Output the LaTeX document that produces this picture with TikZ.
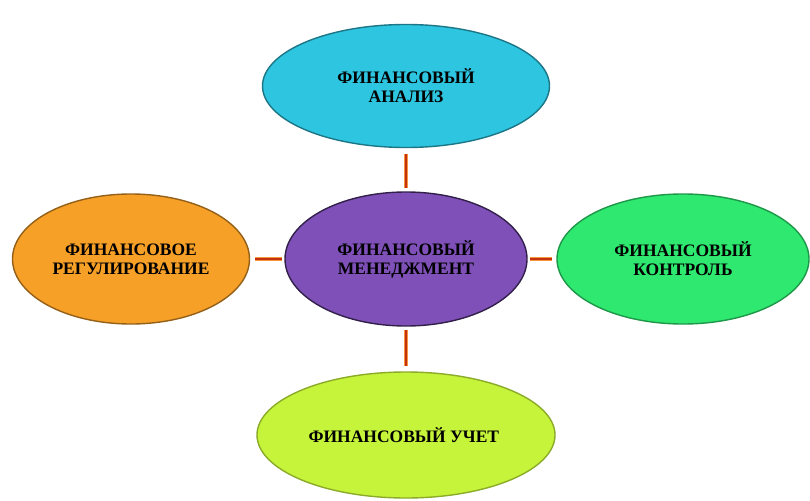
\documentclass[tikz,border=0pt]{standalone}
\usepackage{fontspec}
\setmainfont{Liberation Serif}
\usepackage{tikz}
\usetikzlibrary{shapes,arrows,positioning,calc,backgrounds,arrows.meta}
\usepackage{xcolor}
\definecolor{analysisCyan}{RGB}{46, 197, 224}
\definecolor{managePurple}{RGB}{126, 80, 184}
\definecolor{regulOrange}{RGB}{247, 160, 40}
\definecolor{controlGreen}{RGB}{46, 232, 112}
\definecolor{accountLime}{RGB}{198, 244, 58}
\definecolor{linkRed}{RGB}{196, 50, 16}
\definecolor{linkGlow}{RGB}{245, 150, 60}

\begin{document}
\begin{tikzpicture}[x=1pt,y=-1pt]
        \useasboundingbox (0,0) rectangle (810,500);

        \tikzset{
            oval/.style={ellipse,inner sep=0pt,line width=1.4pt,align=center,
                font=\fontsize{17.5}{19}\selectfont\bfseries},
            link/.style={draw=linkGlow,line width=0.8pt,double=linkRed,double distance=2.4pt}
        }

        \node[oval,fill=analysisCyan,draw=analysisCyan!60!black,
              minimum width=287pt,minimum height=123pt] (analysis) at (406,86) {
            ФИНАНСОВЫЙ\\АНАЛИЗ
        };

        \node[oval,fill=managePurple,draw=managePurple!40!black,
              minimum width=242pt,minimum height=134pt] (manage) at (406,259) {
            ФИНАНСОВЫЙ\\МЕНЕДЖМЕНТ
        };

        \node[oval,fill=regulOrange,draw=regulOrange!60!black,
              minimum width=237pt,minimum height=130pt] (regul) at (131,259) {
            ФИНАНСОВОЕ\\РЕГУЛИРОВАНИЕ
        };

        \node[oval,fill=controlGreen,draw=controlGreen!65!black,
              minimum width=252pt,minimum height=130pt] (control) at (683,259) {
            ФИНАНСОВЫЙ\\КОНТРОЛЬ
        };

        \node[oval,fill=accountLime,draw=accountLime!70!black,
              minimum width=298pt,minimum height=126pt] (account) at (406,435) {
            ФИНАНСОВЫЙ УЧЕТ
        };

        % connectors
        \draw[link,shorten <=6pt,shorten >=3pt] (analysis.south) -- (manage.north);
        \draw[link,shorten <=3pt,shorten >=5pt] (manage.south) -- (account.north);
        \draw[link,shorten <=5pt,shorten >=2pt] (regul.east) -- (manage.west);
        \draw[link,shorten <=2pt,shorten >=4pt] (manage.east) -- (control.west);
    \end{tikzpicture}
\end{document}
